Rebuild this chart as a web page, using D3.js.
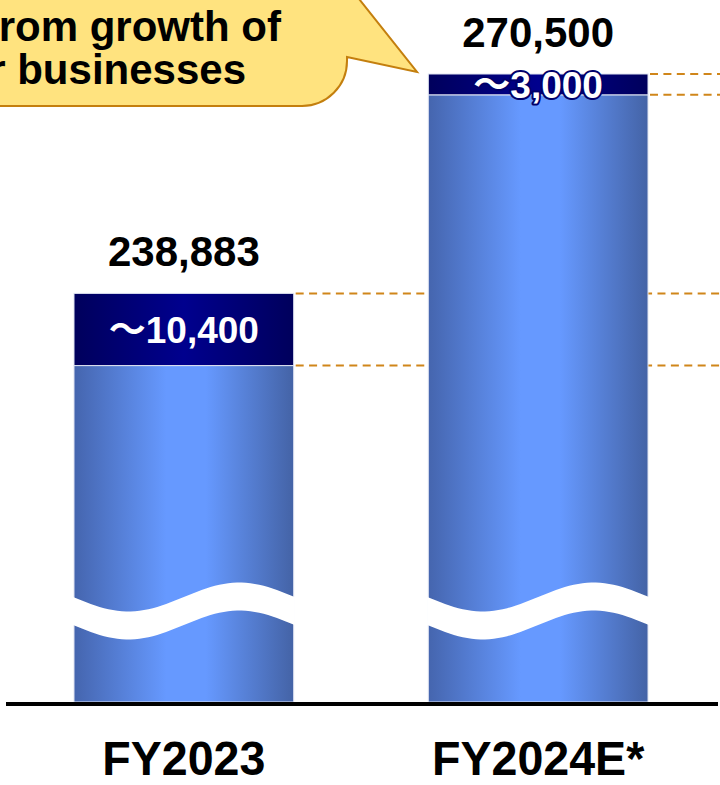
<!DOCTYPE html>
<html>
<head>
<meta charset="utf-8">
<script src="https://cdn.jsdelivr.net/npm/d3@7"></script>
<style>
  body { margin: 0; background: #fff; }
  svg { display: block; }
</style>
</head>
<body>
<svg id="chart" width="720" height="785"></svg>
<script>
// Fiscal years and operating figures
const categories = ["FY2023", "FY2024E*"];
const totals = [238883, 270500];
const topSegments = [10400, 3000];
const calloutLines = ["from growth of", "our businesses"];

const W = 720, H = 785;
const baseY = 702;
const svg = d3.select("#chart");
const fmt = d3.format(",");
const font = "'Liberation Sans', Arial, Helvetica, sans-serif";

const x = d3.scaleBand().domain(categories).range([74, 648]).paddingInner(0.38).paddingOuter(0);
// Broken value axis: the lower part of each bar is cut out by a wave
const y = d3.scaleLinear().domain([180000, 270500]).range([baseY, 74]);

const rows = categories.map((c, i) => ({ cat: c, total: totals[i], seg: topSegments[i] }));

// Gradients
const defs = svg.append("defs");
const blue = defs.append("linearGradient").attr("id", "barBlue").attr("x1", 0).attr("x2", 1).attr("y1", 0).attr("y2", 0);
[[0, "#4565ae"], [0.42, "#6699ff"], [0.6, "#6699ff"], [1, "#4463a6"]]
  .forEach(([o, c]) => blue.append("stop").attr("offset", o).attr("stop-color", c));
const navy = defs.append("linearGradient").attr("id", "barNavy").attr("x1", 0).attr("x2", 1).attr("y1", 0).attr("y2", 0);
[[0, "#00005c"], [0.5, "#00008e"], [1, "#00005c"]]
  .forEach(([o, c]) => navy.append("stop").attr("offset", o).attr("stop-color", c));

// Callout bubble
svg.append("path")
  .attr("d", "M-20,-20 L344,-20 L417,72 L347,57 L347,61 A45,45 0 0 1 302,106 L-20,106 Z")
  .attr("fill", "#ffe37f")
  .attr("stroke", "#c47f0e")
  .attr("stroke-width", 2);

svg.append("g").selectAll("text").data(calloutLines).join("text")
  .attr("x", (d, i) => [281, 246][i])
  .attr("y", (d, i) => 41 + i * 42.5)
  .attr("text-anchor", "end")
  .attr("font-family", font)
  .attr("font-weight", "bold")
  .attr("font-size", 42)
  .attr("fill", "#000")
  .text(d => d);

// Dashed guide lines from the top of each bar and the top of its lower part
const guides = [];
rows.forEach(r => {
  guides.push({ x: x(r.cat) + x.bandwidth() + 2, v: r.total });
  guides.push({ x: x(r.cat) + x.bandwidth() + 2, v: r.total - r.seg });
});
svg.append("g").selectAll("line").data(guides).join("line")
  .attr("x1", d => d.x).attr("x2", W)
  .attr("y1", d => y(d.v)).attr("y2", d => y(d.v))
  .attr("stroke", "#d0861a")
  .attr("stroke-width", 2)
  .attr("stroke-dasharray", "8,5.4");

// Bars
const bars = svg.append("g").selectAll("g").data(rows).join("g");

bars.append("rect")
  .attr("x", d => x(d.cat))
  .attr("width", x.bandwidth())
  .attr("y", d => y(d.total - d.seg))
  .attr("height", d => baseY - y(d.total - d.seg))
  .attr("fill", "url(#barBlue)")
  .attr("stroke", "#dfe4f2")
  .attr("stroke-width", 1);

bars.append("rect")
  .attr("x", d => x(d.cat))
  .attr("width", x.bandwidth())
  .attr("y", d => y(d.total))
  .attr("height", d => y(d.total - d.seg) - y(d.total))
  .attr("fill", "url(#barNavy)")
  .attr("stroke", "#dfe4f2")
  .attr("stroke-width", 1);

// Wave-shaped break across the lower part of each bar
const ts = d3.range(0, 1.0001, 0.02);
bars.append("path")
  .attr("fill", "#fff")
  .attr("d", d => {
    const x0 = x(d.cat) - 1, w = x.bandwidth() + 2;
    const topPts = ts.map(t => [x0 + t * w, 597 + 14.5 * Math.sin(2 * Math.PI * t)]);
    const botPts = ts.slice().reverse().map(t => [x0 + t * w, 625 + 14.5 * Math.sin(2 * Math.PI * t)]);
    return d3.line()(topPts.concat(botPts)) + "Z";
  });

// Segment labels
bars.append("text")
  .attr("x", d => x(d.cat) + x.bandwidth() / 2)
  .attr("y", d => (y(d.total) + y(d.total - d.seg)) / 2 + 14)
  .attr("text-anchor", "middle")
  .attr("font-family", font)
  .attr("font-weight", "bold")
  .attr("font-size", 37)
  .attr("fill", "#fff")
  .attr("stroke", "#00006a")
  .attr("stroke-width", d => (y(d.total - d.seg) - y(d.total)) < 40 ? 4 : 0)
  .attr("paint-order", "stroke")
  .attr("stroke-linejoin", "round")
  .call(t => {
    t.append("tspan").attr("font-family", "'Noto Sans CJK JP', sans-serif").text("～");
    t.append("tspan").text(d => fmt(d.seg));
  });

// Total labels
bars.append("text")
  .attr("x", d => x(d.cat) + x.bandwidth() / 2)
  .attr("y", d => y(d.total) - 27)
  .attr("text-anchor", "middle")
  .attr("font-family", font)
  .attr("font-weight", "bold")
  .attr("font-size", 42)
  .attr("fill", "#000")
  .text(d => fmt(d.total));

// Baseline
svg.append("line")
  .attr("x1", 6).attr("x2", 718)
  .attr("y1", baseY + 2).attr("y2", baseY + 2)
  .attr("stroke", "#000")
  .attr("stroke-width", 4);

// Category axis
const axis = svg.append("g")
  .attr("transform", `translate(0,${baseY + 4})`)
  .call(d3.axisBottom(x).tickSize(0));
axis.select(".domain").remove();
axis.selectAll("text")
  .attr("y", 69)
  .attr("dy", 0)
  .attr("font-family", font)
  .attr("font-weight", "bold")
  .attr("font-size", 48)
  .attr("fill", "#000")
  .each(function () {
    const len = this.getComputedTextLength();
    d3.select(this).attr("textLength", len * 0.97).attr("lengthAdjust", "spacingAndGlyphs");
  });
</script>
</body>
</html>
